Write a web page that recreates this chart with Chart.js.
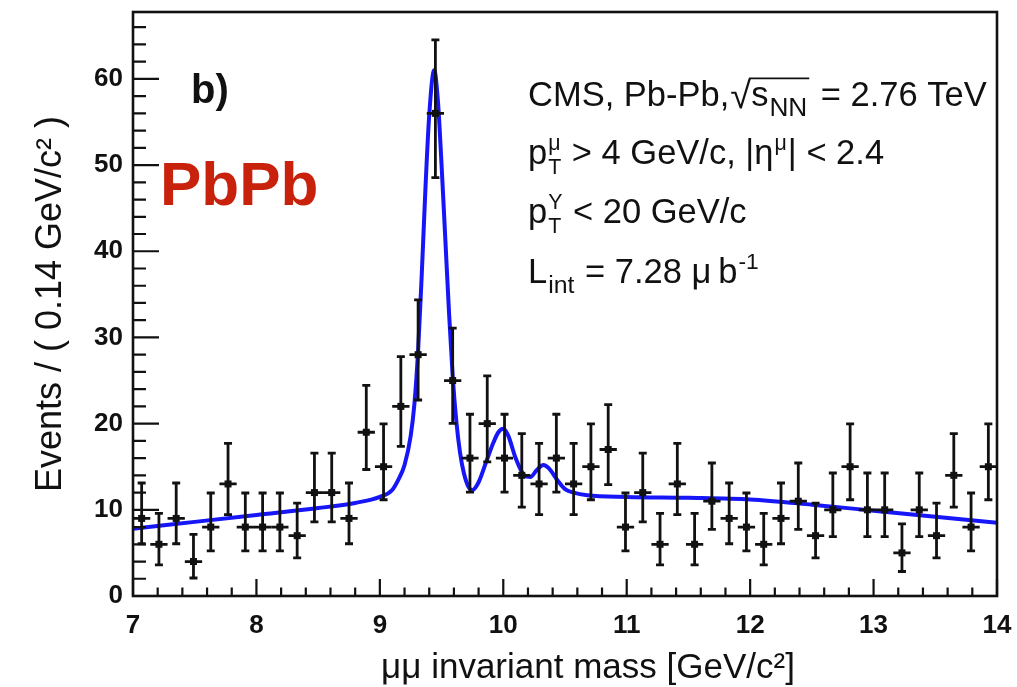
<!DOCTYPE html>
<html>
<head>
<meta charset="utf-8">
<script src="https://cdn.jsdelivr.net/npm/chart.js@4"></script>
<style>
  body { margin: 0; background: #fff; }
  #wrap { width: 1017px; height: 687px; }
</style>
</head>
<body>
<div id="wrap"><canvas id="massPlot"></canvas></div>
<script>
// dimuon mass histogram, 50 bins of 0.14 GeV between 7 and 14
const massMin = 7
const massMax = 14
const binWidth = 0.14
const yMax = 67.76

const counts = [9, 6, 9, 4, 8, 13, 8, 8, 8, 7,
                12, 12, 9, 19, 15, 22, 28, 56, 25, 16,
                20, 16, 14, 13, 16, 13, 15, 17, 8, 12,
                6, 13, 6, 11, 9, 8, 6, 9, 11, 7,
                10, 15, 10, 10, 5, 10, 7, 14, 8, 15]

// lower / upper ends of the poisson error bars
const errLow = [6.06, 3.62, 6.06, 2.09, 5.23, 9.45, 5.23, 5.23, 5.23, 4.42,
                8.59, 8.59, 6.06, 14.68, 11.17, 17.35, 22.74, 48.54, 20.04, 12.05,
                15.57, 12.05, 10.31, 9.45, 12.05, 9.45, 11.17, 12.92, 5.23, 8.59,
                3.62, 9.45, 3.62, 7.74, 6.06, 5.23, 3.62, 6.06, 7.74, 4.42,
                6.89, 11.17, 6.89, 6.89, 2.84, 6.89, 4.42, 10.31, 5.23, 11.17]
const errHigh = [13.11, 9.58, 13.11, 7.16, 11.95, 17.71, 11.95, 11.95, 11.95, 10.77,
                 16.57, 16.57, 13.11, 24.44, 19.97, 27.77, 34.36, 64.53, 31.07, 21.09,
                 25.55, 21.09, 18.84, 17.71, 21.09, 17.71, 19.97, 22.21, 11.95, 16.57,
                 9.58, 17.71, 9.58, 15.43, 13.11, 11.95, 9.58, 13.11, 15.43, 10.77,
                 14.27, 19.97, 14.27, 14.27, 8.38, 14.27, 10.77, 18.84, 11.95, 19.97]

// fitted line shape (background + three upsilon peaks)
const fitMass = [7.0, 7.5, 8.0, 8.5, 8.8, 9.0, 9.1, 9.15, 9.2, 9.25,
                 9.28, 9.31, 9.34, 9.37, 9.4, 9.44, 9.47, 9.5, 9.53, 9.56,
                 9.59, 9.62, 9.65, 9.68, 9.72, 9.75, 9.8, 9.86, 9.92, 9.96,
                 10.0, 10.04, 10.1, 10.17, 10.22, 10.27, 10.325, 10.37, 10.44, 10.5,
                 10.57, 10.68, 11.0, 11.5, 12.0, 12.5, 13.0, 13.5, 14.0]
const fitEvents = [7.8, 8.6, 9.4, 10.2, 10.8, 11.5, 12.3, 13.5, 15.2, 18.6,
                   22.3, 28.5, 37.5, 47.5, 55.8, 61.0, 57.5, 50.0, 41.5, 33.0,
                   25.5, 20.2, 16.6, 14.3, 12.6, 12.3, 13.2, 15.5, 17.8, 19.0,
                   19.4, 18.6, 16.0, 14.0, 13.8, 14.6, 15.2, 14.8, 13.4, 12.4,
                   12.0, 11.7, 11.5, 11.4, 11.2, 10.6, 9.9, 9.2, 8.5]

const xTickVals = []
for (let k = 0; k <= 35; k++) xTickVals.push(Math.round((massMin + 0.2 * k) * 10) / 10)
const yTickVals = []
for (let v = 0; v <= 66; v += 2) yTickVals.push(v)

const fam = '"Liberation Sans", Arial, Helvetica, sans-serif'
const isMajorX = v => Math.abs(v - Math.round(v)) < 1e-6

function binCenter(i) { return massMin + binWidth * (i + 0.5) }

// text with sub/superscripts: items are strings or {t, sub, sup}
function richText(ctx, x, y, items, size) {
  let cx = x
  items.forEach(p => {
    if (typeof p === 'string') p = { t: p }
    if (p.t) {
      ctx.font = size + 'px ' + fam
      ctx.fillText(p.t, cx, y)
      cx += ctx.measureText(p.t).width
    }
    let w = 0
    const small = size * (p.scale || 0.62)
    if (p.sub) {
      ctx.font = small + 'px ' + fam
      ctx.fillText(p.sub, cx + 1, y + size * 0.28)
      w = ctx.measureText(p.sub).width + 2
    }
    if (p.sup) {
      ctx.font = small + 'px ' + fam
      ctx.fillText(p.sup, cx + 1, y - size * 0.42)
      w = Math.max(w, ctx.measureText(p.sup).width + 2)
    }
    cx += w
  })
  return cx
}

const histPlot = {
  id: 'histPlot',
  afterDatasetsDraw(chart) {
    const { ctx, chartArea: a, scales: { x, y } } = chart
    ctx.save()
    ctx.strokeStyle = '#111'
    ctx.fillStyle = '#111'
    ctx.lineWidth = 2.8
    // data points with error bars
    counts.forEach((n, i) => {
      const c = binCenter(i)
      const px = x.getPixelForValue(c)
      const py = y.getPixelForValue(n)
      const pl = x.getPixelForValue(c - binWidth / 2)
      const pr = x.getPixelForValue(c + binWidth / 2)
      const top = y.getPixelForValue(errHigh[i])
      const bot = y.getPixelForValue(errLow[i])
      ctx.beginPath()
      ctx.moveTo(px, top); ctx.lineTo(px, bot)
      ctx.moveTo(pl, py); ctx.lineTo(pr, py)
      ctx.moveTo(px - 4, top); ctx.lineTo(px + 4, top)
      ctx.moveTo(px - 4, bot); ctx.lineTo(px + 4, bot)
      ctx.stroke()
      ctx.fillRect(px - 3.5, py - 3.5, 7, 7)
    })

    // inward ticks
    ctx.lineWidth = 2.2
    ctx.beginPath()
    y.ticks.forEach(t => {
      const py = y.getPixelForValue(t.value)
      const len = t.value % 10 === 0 ? 26 : 13
      ctx.moveTo(a.left, py); ctx.lineTo(a.left + len, py)
    })
    x.ticks.forEach(t => {
      const px = x.getPixelForValue(t.value)
      const len = isMajorX(t.value) ? 17 : 8.5
      ctx.moveTo(px, a.bottom); ctx.lineTo(px, a.bottom - len)
    })
    ctx.stroke()

    // frame
    ctx.lineWidth = 2.6
    ctx.strokeRect(a.left, a.top, a.right - a.left, a.bottom - a.top)
    ctx.restore()
  },
  afterDraw(chart) {
    const { ctx } = chart
    ctx.save()
    ctx.fillStyle = '#111'
    ctx.textBaseline = 'alphabetic'

    // x axis title
    ctx.font = '35px ' + fam
    ctx.textAlign = 'center'
    ctx.fillText('μμ invariant mass [GeV/c²]', 588, 678)
    ctx.textAlign = 'left'

    ctx.font = 'bold 40px ' + fam
    ctx.fillText('b)', 191, 103)

    ctx.fillStyle = 'rgb(200, 34, 12)'
    ctx.font = 'bold 62px ' + fam
    ctx.fillText('PbPb', 160, 205)
    ctx.fillStyle = '#111'

    const fs = 34.5
    const x0 = 528
    // line 1 with square root
    let cx = richText(ctx, x0, 106, ['CMS, Pb-Pb,'], fs)
    ctx.font = (fs * 1.1) + 'px ' + fam
    ctx.fillText('√', cx + 1, 108)
    cx += ctx.measureText('√').width + 1
    const rootStart = cx
    cx = richText(ctx, cx, 106, [{ t: 's', sub: 'NN', scale: 0.76 }], fs)
    ctx.lineWidth = 1.8
    ctx.strokeStyle = '#111'
    ctx.beginPath()
    ctx.moveTo(rootStart - 2, 106 - fs * 0.8)
    ctx.lineTo(cx + 1, 106 - fs * 0.8)
    ctx.stroke()
    richText(ctx, cx + 3, 106, [' = 2.76 TeV'], fs)

    richText(ctx, x0, 164, [{ t: 'p', sub: 'T', sup: 'μ' }, ' > 4 GeV/c, |η', { sup: 'μ' }, '| < 2.4'], fs)
    richText(ctx, x0, 223, [{ t: 'p', sub: 'T', sup: 'Υ' }, ' < 20 GeV/c'], fs)
    richText(ctx, x0, 283, [{ t: 'L', sub: 'int', scale: 0.72 }, ' = 7.28 μ\u2009b', { sup: '-1', scale: 0.66 }], fs)
    ctx.restore()
  }
}

new Chart(document.getElementById('massPlot'), {
  type: 'line',
  data: {
    datasets: [{
      label: 'fit',
      data: fitMass.map((m, i) => ({ x: m, y: fitEvents[i] })),
      borderColor: 'rgb(22, 22, 248)',
      borderWidth: 4,
      pointRadius: 0,
      cubicInterpolationMode: 'monotone',
      fill: false
    }, {
      label: 'data',
      data: counts.map((n, i) => ({ x: binCenter(i), y: n })),
      showLine: false,
      pointRadius: 0
    }]
  },
  options: {
    responsive: true,
    maintainAspectRatio: false,
    animation: false,
    layout: { padding: { top: 12, right: 20, left: 0, bottom: 0 } },
    plugins: { legend: { display: false }, tooltip: { enabled: false } },
    scales: {
      x: {
        type: 'linear',
        min: massMin,
        max: massMax,
        grid: { display: false, drawTicks: false },
        border: { display: false },
        afterBuildTicks: s => { s.ticks = xTickVals.map(v => ({ value: v })) },
        afterFit: s => { s.height = 91; s.paddingLeft = 0; s.paddingRight = 0 },
        ticks: {
          autoSkip: false,
          maxRotation: 0,
          padding: 14,
          color: '#111',
          font: { family: fam, size: 26, weight: 'bold' },
          callback: v => isMajorX(v) ? String(Math.round(v)) : ''
        }
      },
      y: {
        min: 0,
        max: yMax,
        grid: { display: false, drawTicks: false },
        border: { display: false },
        afterBuildTicks: s => { s.ticks = yTickVals.map(v => ({ value: v })) },
        afterFit: s => { s.width = 133; s.paddingTop = 0; s.paddingBottom = 0 },
        ticks: {
          autoSkip: false,
          padding: 10,
          color: '#111',
          font: { family: fam, size: 26, weight: 'bold' },
          callback: v => v % 10 === 0 ? String(v) : ''
        },
        title: {
          display: true,
          text: 'Events / ( 0.14 GeV/c² )',
          color: '#111',
          font: { family: fam, size: 36 },
          padding: { top: 29, bottom: 0 }
        }
      }
    }
  },
  plugins: [histPlot]
})
</script>
</body>
</html>
